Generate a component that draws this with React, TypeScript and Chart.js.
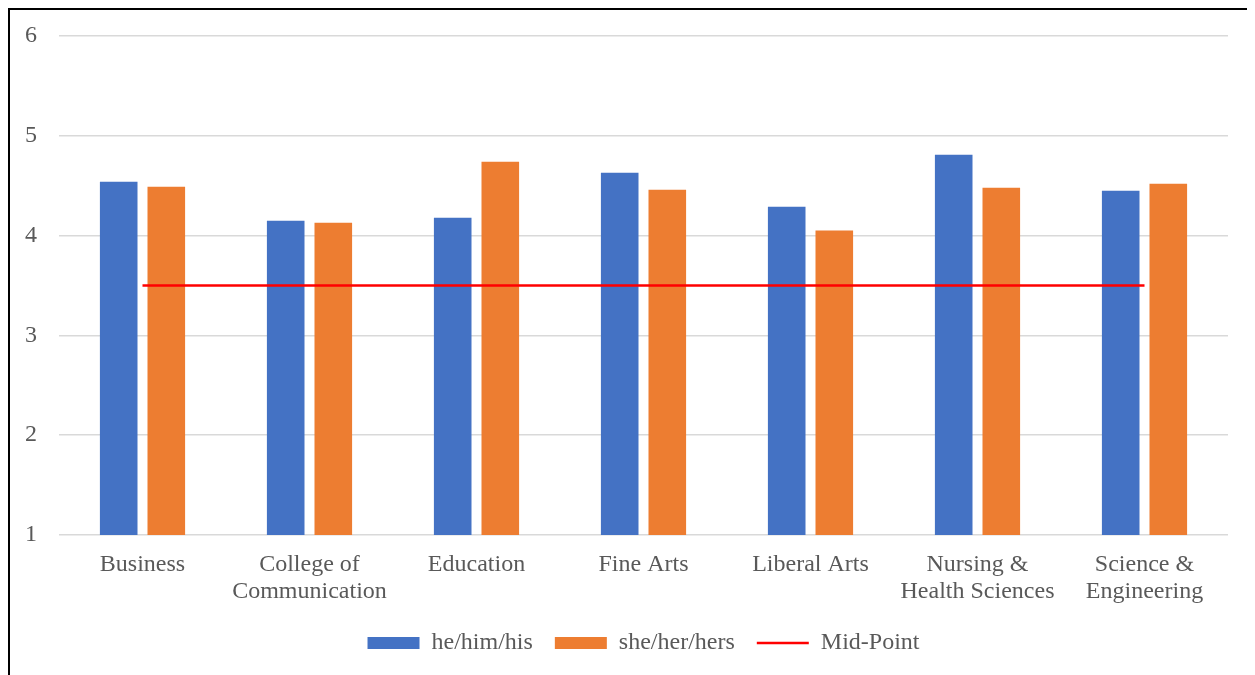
import React, { useEffect, useRef } from "react";
import { Chart, registerables } from "chart.js";

Chart.register(...registerables);

// Survey averages per college, by pronoun group
const colleges: (string | string[])[] = [
  "Business",
  ["College of", "Communication"],
  "Education",
  "Fine Arts",
  "Liberal Arts",
  ["Nursing &", "Health Sciences"],
  ["Science &", "Engineering"],
];
const heHimHis = [4.54, 4.15, 4.18, 4.63, 4.29, 4.81, 4.45];
const sheHerHers = [4.49, 4.13, 4.74, 4.46, 4.05, 4.48, 4.52];
const midPoint = [3.5, 3.5, 3.5, 3.5, 3.5, 3.5, 3.5];
const yTicks = [1, 2, 3, 4, 5, 6];

const FONT = "'Liberation Serif', 'Times New Roman', serif";
const TEXT = "#595959";

export default function App() {
  const canvasRef = useRef<HTMLCanvasElement | null>(null);

  useEffect(() => {
    if (!canvasRef.current) return;
    const chart = new Chart(canvasRef.current, {
      type: "bar",
      data: {
        labels: colleges,
        datasets: [
          {
            type: "bar",
            label: "he/him/his",
            data: heHimHis,
            backgroundColor: "#4472C4",
            borderWidth: 0,
            pointStyle: "rect",
            categoryPercentage: 0.57,
            barPercentage: 0.79,
            order: 1,
          } as any,
          {
            type: "bar",
            label: "she/her/hers",
            data: sheHerHers,
            backgroundColor: "#ED7D31",
            borderWidth: 0,
            pointStyle: "rect",
            categoryPercentage: 0.57,
            barPercentage: 0.79,
            order: 1,
          } as any,
          {
            type: "line",
            label: "Mid-Point",
            data: midPoint,
            borderColor: "#FF0000",
            backgroundColor: "#FF0000",
            borderWidth: 2.5,
            pointRadius: 0,
            pointStyle: "line",
            fill: false,
            order: 0,
          } as any,
        ],
      },
      options: {
        responsive: true,
        maintainAspectRatio: false,
        animation: false,
        layout: { padding: { top: 26, right: 27, bottom: 10, left: 0 } },
        plugins: {
          tooltip: { enabled: false },
          legend: {
            position: "bottom",
            fullSize: false,
            labels: {
              usePointStyle: true,
              pointStyleWidth: 52,
              boxHeight: 12,
              padding: 22,
              color: TEXT,
              font: { family: FONT, size: 24 },
              sort: (a: any, b: any) => a.datasetIndex - b.datasetIndex,
            },
          },
        },
        scales: {
          x: {
            grid: { display: false, drawTicks: false },
            border: { display: false },
            ticks: {
              color: TEXT,
              padding: 17,
              maxRotation: 0,
              autoSkip: false,
              font: { family: FONT, size: 24, lineHeight: 1.1 },
            },
            afterFit: (s: any) => {
              s.height = 74;
            },
          },
          y: {
            min: 1,
            max: 6,
            afterBuildTicks: (s: any) => {
              s.ticks = yTicks.map((v) => ({ value: v }));
            },
            grid: { color: "#D9D9D9", lineWidth: 1.5, drawTicks: false },
            border: { display: false },
            ticks: {
              color: TEXT,
              padding: 22,
              font: { family: FONT, size: 24 },
            },
            afterFit: (s: any) => {
              s.width = 49;
              s.paddingTop = 0;
              s.paddingBottom = 0;
            },
          },
        },
      },
    });
    return () => chart.destroy();
  }, []);

  return (
    <div
      style={{
        width: 1247,
        height: 667,
        boxSizing: "border-box",
        borderLeft: "2px solid #000",
        borderTop: "2px solid #000",
        background: "#fff",
      }}
    >
      <div style={{ position: "relative", width: 1245, height: 665 }}>
        <canvas ref={canvasRef} />
      </div>
    </div>
  );
}
